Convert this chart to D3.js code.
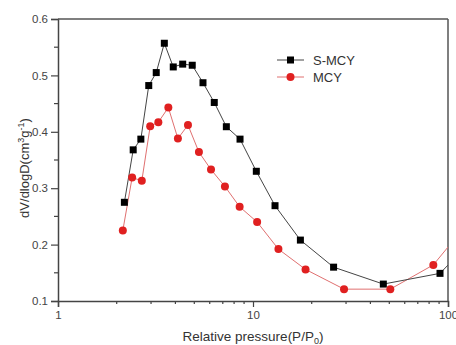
<!DOCTYPE html>
<html>
<head>
<meta charset="utf-8">
<script src="https://cdn.jsdelivr.net/npm/d3@7"></script>
<style>
  body { margin: 0; background: #fff; }
  text { font-family: "Liberation Sans", Arial, sans-serif; fill: #444; }
</style>
</head>
<body>
<div id="chart"></div>
<script>
// S-MCY series (black squares)
var smcyX = [2.19, 2.43, 2.66, 2.92, 3.19, 3.51, 3.90, 4.36, 4.88, 5.54, 6.33, 7.30, 8.58, 10.4, 12.97, 17.5, 25.9, 46.6, 91, 120];
var smcyY = [0.275, 0.368, 0.387, 0.482, 0.505, 0.557, 0.515, 0.520, 0.518, 0.487, 0.452, 0.409, 0.387, 0.330, 0.269, 0.208, 0.160, 0.130, 0.149, 0.192];
// MCY series (red circles)
var mcyX = [2.15, 2.40, 2.69, 2.97, 3.27, 3.68, 4.12, 4.64, 5.28, 6.09, 7.18, 8.54, 10.5, 13.5, 18.6, 29.3, 50.6, 84.1, 110];
var mcyY = [0.225, 0.319, 0.313, 0.410, 0.417, 0.443, 0.388, 0.412, 0.364, 0.333, 0.303, 0.267, 0.240, 0.192, 0.156, 0.121, 0.121, 0.164, 0.213];

var yTicks = [0.1, 0.2, 0.3, 0.4, 0.5, 0.6];
var xTicks = [1, 10, 100];
var seriesNames = ["S-MCY", "MCY"];

var margin = {top: 19, right: 8, bottom: 44, left: 58},
    width = 456 - margin.left - margin.right,
    height = 345 - margin.top - margin.bottom;

var svg = d3.select("#chart")
  .append("svg")
  .attr("width", 456)
  .attr("height", 345)
  .append("g")
  .attr("transform", "translate(" + margin.left + "," + margin.top + ")");

var x = d3.scaleLog()
  .domain([1, 100])
  .range([0, width]);

var y = d3.scaleLinear()
  .domain([0.1, 0.6])
  .range([height, 0]);

svg.append("defs").append("clipPath")
  .attr("id", "clip")
  .append("rect")
  .attr("width", width)
  .attr("height", height);

// minor ticks
var xMinor = [];
[1, 10].forEach(function(d) {
  for (var i = 2; i <= 9; i++) xMinor.push(d * i);
});
var yMinor = [0.15, 0.25, 0.35, 0.45, 0.55];

svg.selectAll(".xminor")
  .data(xMinor)
  .enter()
  .append("line")
  .attr("x1", function(d) { return x(d); })
  .attr("x2", function(d) { return x(d); })
  .attr("y1", height)
  .attr("y2", height + 3)
  .attr("stroke", "#444")
  .attr("stroke-width", 1.2);

svg.selectAll(".yminor")
  .data(yMinor)
  .enter()
  .append("line")
  .attr("x1", -4)
  .attr("x2", 0)
  .attr("y1", function(d) { return y(d); })
  .attr("y2", function(d) { return y(d); })
  .attr("stroke", "#444")
  .attr("stroke-width", 1.2);

var xAxis = svg.append("g")
  .attr("transform", "translate(0," + height + ")")
  .call(d3.axisBottom(x).tickValues(xTicks).tickFormat(d3.format("d")).tickSize(6).tickPadding(4));

var yAxis = svg.append("g")
  .call(d3.axisLeft(y).tickValues(yTicks).tickFormat(d3.format(".1f")).tickSize(7).tickPadding(3));

[xAxis, yAxis].forEach(function(a) {
  a.select(".domain").attr("stroke", "#444").attr("stroke-width", 1.5);
  a.selectAll(".tick line").attr("stroke", "#444").attr("stroke-width", 1.2);
  a.selectAll(".tick text").style("font-size", "11.5px").style("fill", "#444")
    .style("font-family", "Liberation Sans, Arial, sans-serif");
});

// frame top and right
svg.append("line")
  .attr("x1", 0).attr("x2", width)
  .attr("y1", 0).attr("y2", 0)
  .attr("stroke", "#555").attr("stroke-width", 1.5);
svg.append("line")
  .attr("x1", width).attr("x2", width)
  .attr("y1", 0).attr("y2", height)
  .attr("stroke", "#555").attr("stroke-width", 1.5);

var plot = svg.append("g").attr("clip-path", "url(#clip)");

var line = d3.line()
  .x(function(d) { return x(d[0]); })
  .y(function(d) { return y(d[1]); });

var smcy = d3.zip(smcyX, smcyY);
var mcy = d3.zip(mcyX, mcyY);

plot.append("path")
  .datum(mcy)
  .attr("d", line)
  .attr("fill", "none")
  .attr("stroke", "#e07070")
  .attr("stroke-width", 1);

plot.append("path")
  .datum(smcy)
  .attr("d", line)
  .attr("fill", "none")
  .attr("stroke", "#444")
  .attr("stroke-width", 1);

plot.selectAll(".sq")
  .data(smcy)
  .enter()
  .append("rect")
  .attr("x", function(d) { return x(d[0]) - 3.5; })
  .attr("y", function(d) { return y(d[1]) - 3.5; })
  .attr("width", 7)
  .attr("height", 7)
  .attr("fill", "#000");

plot.selectAll(".dot")
  .data(mcy)
  .enter()
  .append("circle")
  .attr("cx", function(d) { return x(d[0]); })
  .attr("cy", function(d) { return y(d[1]); })
  .attr("r", 4)
  .attr("fill", "#e02020");

// legend
var lx = 277 - margin.left, ly = 60 - margin.top;
seriesNames.forEach(function(name, i) {
  var yy = ly + i * 17;
  svg.append("line")
    .attr("x1", lx).attr("x2", lx + 27)
    .attr("y1", yy).attr("y2", yy)
    .attr("stroke", i === 0 ? "#444" : "#e07070")
    .attr("stroke-width", 1);
  if (i === 0) {
    svg.append("rect")
      .attr("x", lx + 13.5 - 3.5).attr("y", yy - 3.5)
      .attr("width", 7).attr("height", 7)
      .attr("fill", "#000");
  } else {
    svg.append("circle")
      .attr("cx", lx + 13.5).attr("cy", yy)
      .attr("r", 4)
      .attr("fill", "#e02020");
  }
  svg.append("text")
    .attr("x", lx + 36)
    .attr("y", yy)
    .attr("dy", "0.35em")
    .style("font-size", "13px")
    .style("fill", "#333")
    .text(name);
});

// axis titles
svg.append("text")
  .attr("x", 253 - margin.left)
  .attr("y", 341 - margin.top)
  .attr("text-anchor", "middle")
  .style("font-size", "13.5px")
  .style("fill", "#333")
  .html('Relative pressure(P/P<tspan dy="3" font-size="9px">0</tspan><tspan dy="-3">)</tspan>');

svg.append("text")
  .attr("transform", "translate(" + (29 - margin.left) + "," + (168 - margin.top) + ") rotate(-90)")
  .attr("text-anchor", "middle")
  .style("font-size", "13px")
  .style("fill", "#333")
  .html('dV/dlogD(cm<tspan dy="-5" font-size="9px">3</tspan><tspan dy="5">g</tspan><tspan dy="-5" font-size="9px">-1</tspan><tspan dy="5">)</tspan>');
</script>
</body>
</html>
